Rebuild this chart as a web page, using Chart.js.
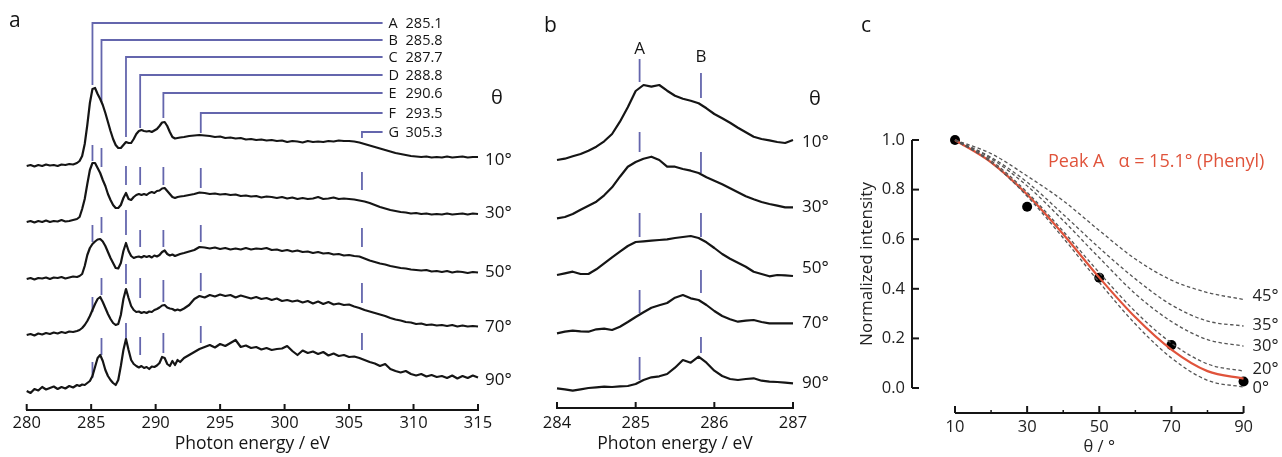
<!DOCTYPE html>
<html><head><meta charset="utf-8">
<script src="https://cdn.jsdelivr.net/npm/chart.js@4.4.1/dist/chart.umd.min.js"></script>
<style>
html,body{margin:0;padding:0;background:#fff;width:1282px;height:457px;overflow:hidden;}
canvas{position:absolute;top:0;}
#ca{left:0;} #cb{left:520px;} #cc{left:856px;}
</style></head><body>
<canvas id="ca" width="520" height="457"></canvas>
<canvas id="cb" width="340" height="457"></canvas>
<canvas id="cc" width="426" height="457"></canvas>
<script>
// ---------- Panel a data ----------
const energyA = [280.0,280.3,280.6,280.9,281.2,281.5,281.8,282.1,282.4,282.7,283.0,283.3,283.6,283.9,
284.1,284.3,284.5,284.7,284.9,285.1,285.3,285.5,285.7,285.9,286.1,286.3,286.5,286.7,286.9,287.1,287.3,287.5,287.7,287.9,288.1,288.3,288.5,288.7,288.9,289.1,289.3,289.5,289.7,289.9,290.1,290.3,290.5,290.7,290.9,291.1,291.3,291.5,291.7,291.9,
292.2,292.6,293.0,293.4,293.8,294.2,294.6,295.0,295.4,295.8,296.2,296.6,297.0,297.4,297.8,298.2,298.6,299.0,299.4,299.8,300.2,300.6,301.0,301.4,301.8,302.2,302.6,303.0,303.4,303.8,304.2,304.6,305.0,305.4,305.8,306.2,306.6,307.0,307.4,307.8,308.2,308.6,309.0,309.4,309.8,310.2,310.6,311.0,311.4,311.8,312.2,312.6,313.0,313.4,313.8,314.2,314.6,315.0];
const specA10 = [244,245,243.5,245,244,245.5,244.5,245,244,245.5,245,246,245.5,247,
249,254,266,285,307,321,322,316,311,305,297,288,279,271,265,262,262,265,268,267,267,271,276,279,280,279,278.5,279,278,279.5,281,284,287.5,288,284,278,273,271.5,272,272.5,
273,274,274.5,275,274.5,274,273,273.5,272,272.5,271.5,272,270.5,271,270,270.5,269.5,270,269,269.5,268,269,268.5,267.5,269,268,268.5,268,269,268.5,269.5,269,269,268.5,267.5,266,264.5,263,261.5,260,258.5,257,256,255,254,253.5,253,253.5,252.5,253,252.5,253.5,252.5,253,253.5,252.5,253,253];
const specA30 = [188,189,187.5,189,188,189.5,188,189,188.5,190,188.5,189,190,191,
193,201,211,226,240,247,247,242,237,230,224,216,210,205,202,202,205,212,217,211,210,213,215,216,215,216,215,217,218,217,219,219.5,221.5,222,219,216,213,212,213,213.5,
214,215,216,217.5,217,216,216.5,215.5,216,215,215.5,214,214.5,213.5,214,212.5,213.5,213,212,213,211.5,212.5,211,212,211,211.5,213,211,211.5,212.5,211,211.5,211,210.5,209.5,208.5,207,205,203,201.5,200,199,198,197.5,196.5,197,196,196.5,195.5,196,195.5,196.5,195.5,196,196.5,195.5,196.5,196];
const specA50 = [131,132,130.5,132,131.5,132.5,131,132.5,132,133,131.5,132.5,133.5,133,
134,136,144,155,162,166,168.5,170.5,171,168.5,164,158,152,147,142,141.5,147,159,167,159,154,152,153,153.5,152.5,154,153,154,152.5,154.5,153.5,155,158,159.5,156,154.5,155.5,154,155,156,
157,158.5,160,163,162.5,161.5,162.5,161,162,160.5,161.5,160.5,162,160.5,161.5,161,162,160,160.5,159,160,158.5,159.5,158,158.5,157,158,156.5,157,155.5,156,154.5,155,154,153.5,151.5,149.5,148,146.5,145.5,144,143,142,141.5,140.5,140,139.5,140,138.5,139,138,139,137.5,138.5,138,137,138,137.5];
const specA70 = [75,76,74.5,76.5,75.5,77,76,77.5,76.5,78,77,78.5,78,79,
80,82,85,89,94,100,106,111,113,108,102,96,91,87,85,86,95,111,121,112,104,100,98,98.5,97,98,97,98.5,98,100,101,102.5,104.5,105,102.5,101.5,101,99.5,100.5,99.5,
101.5,105,111,114,112.5,115,113.5,115.5,114,115,112.5,114.5,113,111.5,113,111,112,110,111.5,109,110,108.5,109.5,107.5,109,106.5,108.5,106,108,105.5,106.5,105,105.5,103.5,102,100,98.5,97,95.5,94,92,90.5,89.5,88,87.5,86,86.5,85,85.5,84.5,85,84,85,83.5,84.5,83.5,84,83.5];
const specA90 = [19,17,21,19.5,23,20.5,22,23.5,21,23,21.5,24,22.5,25,
24,25.5,25,27,29,34,43,52,55,49,40,34,30,27,25,30,44,60,71,60,50,46,44,42.5,44,42,43,41,43.5,43,44.5,47,53,52,46,44,49,45,50,48,
52,55,58,61,63,65,62.5,66,64,67,70,63,64.5,62,63,60.5,62,60,61,61.5,64,59,55,59.5,57,58.5,56,58,54.5,56.5,54,55,53,53.5,52,50,48,46.5,44,46,41,39,37.5,39,36,34.5,36,33.5,35,33,34,32,34.5,31.5,34,32,34.5,32.5];
const angleLabels = ['10°','30°','50°','70°','90°'];
const angleLabelYA = [250,197,138,83,30];
const peakNames = ['A','B','C','D','E','F','G'];
const peakValues = ['285.1','285.8','287.7','288.8','290.6','293.5','305.3'];
const peakMarkE = [285.1,285.8,287.7,288.8,290.6,293.5,306.0];
const bracketRowA = [387,370,353,335,317,297,278];
const bracketDropA = [325,308,273,282,292,277,272];
const bracketEndE = 307.6;
const ticksA30 = [[249,265],[243,262],[225,244],[225,243],[225,243],[222,242],[220,238]];
const ticksA50 = [[168,185],[177,193],[175,200],[163,180],[163,180],[168,185],[163,182]];
const ticksA70 = [[98,113],[115,132],[126,146],[112,132],[108,130],[119,137],[107,127]];
const ticksA90 = [[32,48],[55,72],[69,87],[55,73],[57,77],[67,84],[60,77]];

// ---------- Panel b data ----------
const energyB = [284.0,284.1,284.2,284.3,284.4,284.5,284.6,284.7,284.8,284.9,285.0,285.1,285.2,285.3,285.4,285.5,285.6,285.7,285.8,285.9,286.0,286.1,286.2,286.3,286.4,286.5,286.6,286.7,286.8,286.9,287.0];
const specB10 = [248,249.3,251.7,254,257.3,261.3,266.7,274,286.3,300.7,317,323,321.3,323,317.3,312.3,309.3,307.3,304.7,299.7,294,289.7,285.3,280.3,275.7,271.3,269,267.7,266,265,268];
const specB30 = [189.7,191,194,198.3,202.3,206.3,212.7,220.7,231.3,241.3,246,249.3,251.3,248,241.3,241.3,239,237.3,235,230.7,227.3,223.7,219.7,215.7,211.7,208.7,206,204,202.3,200.7,200.7];
const specB50 = [133,134.7,136.3,134,134,138.7,144.7,150.7,156.3,162,166,166.7,167.3,168,168.7,170,171,172,170,165.7,160,154,149.3,145.3,141.3,136.3,134,131.7,133,132.7,132];
const specB70 = [74.7,76.3,77.3,76.7,76.3,78.7,79.3,78,81.3,86,91,95.7,100.3,102.7,105,110.3,113,109.7,108,103,97,92,88.7,86.3,87.3,88,86,84.7,84.7,84.7,84.7];
const specB90 = [19.7,18.7,17.3,18.7,20,20.7,21.3,21,21.7,22,24,28,30.7,31.7,34,40.3,48,45.3,51.3,45.3,37.3,32,29,28,29,29.7,27.3,26.3,26,25.3,24.7];
const angleLabelYB = [266,201,140,85,25];
const peakNamesB = ['A','B'];
const peakMarkB = [285.05,285.83];
const peakLabelYB = [359,351];
const ticksBA = [[326,349],[256,276],[171,195],[95,118],[28,51]];
const ticksBB = [[310,335],[235,256],[171,195],[115,138],[55,71]];

// ---------- Panel c data ----------
const thetaCurve = [10,20,30,40,50,60,70,80,90];
const alpha0  = [1.0,0.91,0.773,0.605,0.426,0.258,0.121,0.031,0.004];
const alpha20 = [1.0,0.917,0.789,0.632,0.465,0.308,0.181,0.097,0.068];
const alpha30 = [1.0,0.925,0.815,0.675,0.525,0.38,0.268,0.195,0.169];
const alpha35 = [1.0,0.93,0.83,0.70,0.565,0.44,0.335,0.27,0.25];
const alpha45 = [1.0,0.945,0.855,0.755,0.635,0.52,0.435,0.385,0.357];
const alphaFit = [1.0,0.91,0.78,0.62,0.445,0.285,0.155,0.068,0.038];
const dashedLabels = ['0°','20°','30°','35°','45°'];
const thetaPts = [10,30,50,70,90];
const intensityPts = [1.0,0.731,0.445,0.173,0.026];
const thetaMajor = [10,30,50,70,90];
const thetaMinor = [20,40,60,80];
const yTicksC = [0,0.2,0.4,0.6,0.8,1.0];
const fitLabel = 'Peak A   α = 15.1° (Phenyl)';

// ---------- styles ----------
const BLUE = '#6466ad';
const RED = '#e0533b';
const INK = '#151515';
const FONT = "'Open Sans', 'Noto Sans', sans-serif";
Chart.defaults.font.family = FONT;
Chart.defaults.color = INK;

const xy = (xs, ys) => xs.map((v, i) => ({x: v, y: ys[i]}));
const specLine = (xs, ys) => ({data: xy(xs, ys), borderColor: INK, borderWidth: 2.2, pointRadius: 0, tension: 0, clip: false, borderJoinStyle: 'round'});

function upTicks(ctx, scale, area, len) {
  ctx.save(); ctx.strokeStyle = INK; ctx.lineWidth = 2;
  scale.ticks.forEach(t => {
    const px = scale.getPixelForValue(t.value);
    ctx.beginPath(); ctx.moveTo(px, area.bottom); ctx.lineTo(px, area.bottom - len); ctx.stroke();
  });
  ctx.restore();
}
function segs(ctx, x, y, es, ranges) {
  ranges.forEach((r, i) => {
    const px = x.getPixelForValue(es[i]);
    ctx.beginPath(); ctx.moveTo(px, y.getPixelForValue(r[0])); ctx.lineTo(px, y.getPixelForValue(r[1])); ctx.stroke();
  });
}

// ---------- Panel a ----------
const plugA = {
  id: 'plugA',
  beforeDatasetsDraw(chart) {
    const {ctx, scales: {x, y}} = chart;
    ctx.save(); ctx.strokeStyle = BLUE; ctx.lineWidth = 1.8;
    const xe = x.getPixelForValue(bracketEndE);
    peakMarkE.forEach((e, i) => {
      const px = x.getPixelForValue(e), py = y.getPixelForValue(bracketRowA[i]);
      ctx.beginPath(); ctx.moveTo(px, y.getPixelForValue(bracketDropA[i])); ctx.lineTo(px, py); ctx.lineTo(xe, py); ctx.stroke();
    });
    [ticksA30, ticksA50, ticksA70, ticksA90].forEach(r => segs(ctx, x, y, peakMarkE, r));
    ctx.restore();
  },
  afterDatasetsDraw(chart) {
    const {ctx, scales: {x, y}, chartArea} = chart;
    upTicks(ctx, x, chartArea, 6);
    ctx.save();
    ctx.fillStyle = INK; ctx.textBaseline = 'middle';
    const xe = x.getPixelForValue(bracketEndE);
    ctx.font = '14.5px ' + FONT;
    peakNames.forEach((n, i) => {
      const py = y.getPixelForValue(bracketRowA[i]);
      ctx.textAlign = 'left';
      ctx.fillText(n, xe + 6, py + 1);
      ctx.fillText(peakValues[i], xe + 23, py + 1);
    });
    ctx.font = '17px ' + FONT;
    angleLabels.forEach((t, i) => ctx.fillText(t, chartArea.right + 7, y.getPixelForValue(angleLabelYA[i])));
    ctx.font = '20px ' + FONT; ctx.textAlign = 'center';
    ctx.fillText('θ', 497, 98);
    ctx.font = '21px ' + FONT; ctx.textAlign = 'left'; ctx.textBaseline = 'alphabetic';
    ctx.fillText('a', 9, 27);
    ctx.restore();
  }
};
new Chart(document.getElementById('ca'), {
  type: 'line',
  data: {datasets: [specLine(energyA, specA10), specLine(energyA, specA30), specLine(energyA, specA50), specLine(energyA, specA70), specLine(energyA, specA90)]},
  options: {
    responsive: false, animation: false, events: [],
    layout: {padding: {left: 26.7, right: 42, top: 10, bottom: 0}},
    plugins: {legend: {display: false}, tooltip: {enabled: false}},
    scales: {
      x: {type: 'linear', min: 280, max: 315,
        ticks: {stepSize: 5, padding: 3, font: {size: 16.5}, color: INK, maxRotation: 0, autoSkip: false},
        grid: {display: false, drawTicks: false},
        border: {display: true, color: INK, width: 2},
        title: {display: true, text: 'Photon energy / eV', font: {size: 17.5}, color: INK, padding: {top: 2, bottom: 2}},
        afterFit: s => { s.height = 47; }},
      y: {display: false, min: 0, max: 400}
    }
  },
  plugins: [plugA]
});

// ---------- Panel b ----------
const plugB = {
  id: 'plugB',
  beforeDatasetsDraw(chart) {
    const {ctx, scales: {x, y}} = chart;
    ctx.save(); ctx.strokeStyle = BLUE; ctx.lineWidth = 1.8;
    ticksBA.forEach(r => segs(ctx, x, y, [peakMarkB[0]], [r]));
    ticksBB.forEach(r => segs(ctx, x, y, [peakMarkB[1]], [r]));
    ctx.restore();
  },
  afterDatasetsDraw(chart) {
    const {ctx, scales: {x, y}, chartArea} = chart;
    upTicks(ctx, x, chartArea, 6);
    ctx.save(); ctx.fillStyle = INK; ctx.textBaseline = 'middle'; ctx.textAlign = 'center';
    ctx.font = '17px ' + FONT;
    peakNamesB.forEach((n, i) => ctx.fillText(n, x.getPixelForValue(peakMarkB[i]), y.getPixelForValue(peakLabelYB[i])));
    ctx.textAlign = 'left'; ctx.font = '17px ' + FONT;
    angleLabels.forEach((t, i) => ctx.fillText(t, chartArea.right + 9, y.getPixelForValue(angleLabelYB[i])));
    ctx.font = '20px ' + FONT; ctx.textAlign = 'center';
    ctx.fillText('θ', 295, 99);
    ctx.font = '21px ' + FONT; ctx.textAlign = 'left'; ctx.textBaseline = 'alphabetic';
    ctx.fillText('b', 24, 32);
    ctx.restore();
  }
};
new Chart(document.getElementById('cb'), {
  type: 'line',
  data: {datasets: [specLine(energyB, specB10), specLine(energyB, specB30), specLine(energyB, specB50), specLine(energyB, specB70), specLine(energyB, specB90)]},
  options: {
    responsive: false, animation: false, events: [],
    layout: {padding: {left: 37, right: 67, top: 10, bottom: 0}},
    plugins: {legend: {display: false}, tooltip: {enabled: false}},
    scales: {
      x: {type: 'linear', min: 284, max: 287,
        ticks: {stepSize: 1, padding: 5, font: {size: 16.5}, color: INK, maxRotation: 0, autoSkip: false},
        grid: {display: false, drawTicks: false},
        border: {display: true, color: INK, width: 2},
        title: {display: true, text: 'Photon energy / eV', font: {size: 17.5}, color: INK, padding: {top: 2, bottom: 2}},
        afterFit: s => { s.height = 49; }},
      y: {display: false, min: 0, max: 398}
    }
  },
  plugins: [plugB]
});

// ---------- Panel c ----------
const plugC = {
  id: 'plugC',
  afterDatasetsDraw(chart) {
    const {ctx, scales: {x, y}, chartArea} = chart;
    ctx.save(); ctx.strokeStyle = INK; ctx.lineWidth = 2;
    const yl = x.getPixelForValue(10) - 43;
    ctx.beginPath(); ctx.moveTo(yl, y.getPixelForValue(0)); ctx.lineTo(yl, y.getPixelForValue(1)); ctx.stroke();
    yTicksC.forEach(v => { const py = y.getPixelForValue(v); ctx.beginPath(); ctx.moveTo(yl, py); ctx.lineTo(yl + 7, py); ctx.stroke(); });
    const xl = chartArea.bottom + 25;
    ctx.beginPath(); ctx.moveTo(x.getPixelForValue(10), xl); ctx.lineTo(x.getPixelForValue(90), xl); ctx.stroke();
    thetaMajor.forEach(v => { const px = x.getPixelForValue(v); ctx.beginPath(); ctx.moveTo(px, xl); ctx.lineTo(px, xl - 7); ctx.stroke(); });
    ctx.lineWidth = 1.5;
    thetaMinor.forEach(v => { const px = x.getPixelForValue(v); ctx.beginPath(); ctx.moveTo(px, xl); ctx.lineTo(px, xl - 3); ctx.stroke(); });
    ctx.fillStyle = '#222'; ctx.textBaseline = 'middle'; ctx.textAlign = 'left'; ctx.font = '16.5px ' + FONT;
    const ends = [alpha0, alpha20, alpha30, alpha35, alpha45];
    const nudge = [1, -2, 0, -1, -3];
    dashedLabels.forEach((t, i) => ctx.fillText(t, chartArea.right + 9, y.getPixelForValue(ends[i][ends[i].length - 1]) + nudge[i]));
    ctx.fillStyle = RED; ctx.font = '18px ' + FONT;
    ctx.fillText(fitLabel, x.getPixelForValue(10) + 93, y.getPixelForValue(0.91));
    ctx.fillStyle = INK; ctx.font = '21px ' + FONT; ctx.textBaseline = 'alphabetic';
    ctx.fillText('c', 5, 32);
    ctx.restore();
  }
};
const dashed = ys => ({data: xy(thetaCurve, ys), borderColor: '#555', borderWidth: 1.3, borderDash: [3.5, 2.5], pointRadius: 0, cubicInterpolationMode: 'monotone', clip: false});
new Chart(document.getElementById('cc'), {
  type: 'line',
  data: {datasets: [
    dashed(alpha0), dashed(alpha20), dashed(alpha30), dashed(alpha35), dashed(alpha45),
    {data: xy(thetaCurve, alphaFit), borderColor: RED, borderWidth: 2.2, pointRadius: 0, cubicInterpolationMode: 'monotone', clip: false},
    {data: xy(thetaPts, intensityPts), showLine: false, pointRadius: 5, pointBackgroundColor: '#000', pointBorderWidth: 0, clip: false}
  ]},
  options: {
    responsive: false, animation: false, events: [],
    layout: {padding: {left: 0, right: 35, top: 140, bottom: 0}},
    plugins: {legend: {display: false}, tooltip: {enabled: false}},
    scales: {
      x: {type: 'linear', min: 10, max: 90,
        afterBuildTicks: s => { s.ticks = thetaMajor.map(v => ({value: v})); },
        ticks: {padding: 29, font: {size: 16.5}, color: '#222', maxRotation: 0, autoSkip: false},
        grid: {display: false, drawTicks: false}, border: {display: false},
        title: {display: true, text: 'θ / °', font: {size: 16.5, lineHeight: 1.0}, color: '#222', padding: {top: 0, bottom: 1}},
        afterFit: s => { s.height = 69; }},
      y: {type: 'linear', min: 0, max: 1,
        afterBuildTicks: s => { s.ticks = yTicksC.map(v => ({value: v})); },
        ticks: {padding: 50, font: {size: 16.5}, color: '#222', callback: v => v.toFixed(1)},
        grid: {display: false, drawTicks: false}, border: {display: false},
        title: {display: true, text: 'Normalized intensity', font: {size: 17}, color: '#222', padding: {top: 1, bottom: 0}},
        afterFit: s => { s.width = 99; }}
    }
  },
  plugins: [plugC]
});
</script>
</body></html>
